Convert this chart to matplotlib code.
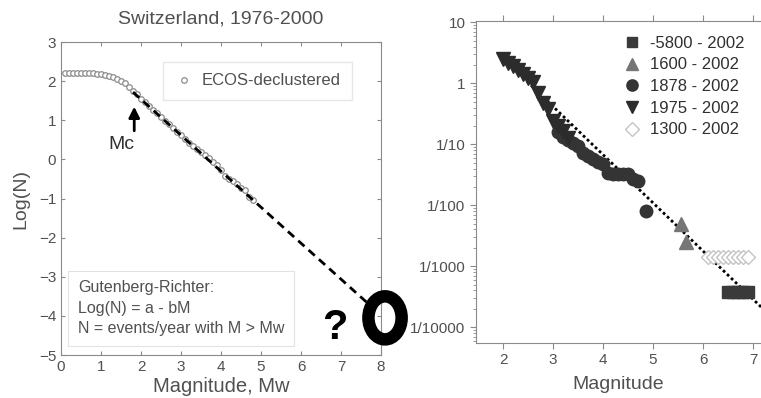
import numpy as np
import matplotlib
matplotlib.use("Agg")
import matplotlib.pyplot as plt
from matplotlib.patches import Ellipse
from matplotlib.ticker import FixedLocator, LogLocator, NullFormatter

plt.rcParams["font.family"] = ["Liberation Sans", "DejaVu Sans"]

# left panel: declustered ECOS catalogue, cumulative log(N) per year
ecos_mag = [0.1, 0.2, 0.3, 0.4, 0.5, 0.6, 0.7, 0.8, 0.9, 1.0,
            1.1, 1.2, 1.3, 1.4, 1.5, 1.6, 1.7, 1.8, 1.9, 2.0,
            2.1, 2.2, 2.3, 2.4, 2.5, 2.6, 2.7, 2.8, 2.9, 3.0,
            3.1, 3.2, 3.3, 3.4, 3.5, 3.6, 3.7, 3.8, 3.9, 4.0,
            4.1, 4.2, 4.3, 4.4, 4.5, 4.6, 4.7, 4.8]
ecos_logn = [2.22, 2.22, 2.22, 2.22, 2.21, 2.21, 2.20, 2.20, 2.19, 2.18,
             2.16, 2.13, 2.10, 2.06, 2.01, 1.94, 1.86, 1.76, 1.66, 1.55,
             1.46, 1.36, 1.27, 1.18, 1.08, 0.98, 0.90, 0.80, 0.71, 0.62,
             0.52, 0.42, 0.34, 0.26, 0.18, 0.10, 0.04, -0.06, -0.14, -0.28,
             -0.42, -0.50, -0.56, -0.64, -0.72, -0.78, -0.96, -1.05]
gr_mag = [1.8, 7.65]
gr_logn = [1.72, -3.66]

# right panel: annual rates by catalogue period
sets = {
    "-5800 - 2002": ([6.5, 6.6, 6.7, 6.8, 6.9],
                     [0.00038, 0.00038, 0.00038, 0.00038, 0.00038]),
    "1600 - 2002": ([5.55, 5.65], [0.0050, 0.0025]),
    "1878 - 2002": ([3.1, 3.2, 3.3, 3.4, 3.5, 3.6, 3.7, 3.8, 3.9, 4.0,
                     4.1, 4.2, 4.3, 4.4, 4.5, 4.6, 4.7, 4.85],
                    [0.158, 0.132, 0.117, 0.105, 0.095, 0.071, 0.063, 0.058, 0.052, 0.048,
                     0.034, 0.033, 0.033, 0.033, 0.032, 0.027, 0.025, 0.0079]),
    "1975 - 2002": ([2.0, 2.1, 2.2, 2.3, 2.4, 2.5, 2.6, 2.7, 2.8, 2.9,
                     3.0, 3.1, 3.2, 3.3],
                    [2.51, 2.19, 1.91, 1.66, 1.41, 1.20, 1.05, 0.68, 0.48, 0.38,
                     0.24, 0.20, 0.166, 0.126]),
    "1300 - 2002": ([6.1, 6.2, 6.3, 6.4, 6.5, 6.6, 6.7, 6.8, 6.9],
                    [0.0014] * 9),
}
fit_mag = [2.0, 7.2]
fit_rate = [2.57, 0.0002]

styles = {
    "-5800 - 2002": dict(marker="s", color="#3a3a3a", ms=8.5),
    "1600 - 2002": dict(marker="^", color="#767676", ms=9.5),
    "1878 - 2002": dict(marker="o", color="#343434", ms=9),
    "1975 - 2002": dict(marker="v", color="#2c2c2c", ms=9.5),
    "1300 - 2002": dict(marker="D", color="white", mec="#c4c4c4", ms=7.5),
}

grey = "#505050"
spine = "#8a8a8a"

fig = plt.figure(figsize=(7.61, 3.98), dpi=100)

# ---------------- left panel
ax1 = fig.add_axes([0.0802, 0.108, 0.4205, 0.7864])
ax1.plot(ecos_mag, ecos_logn, "o", ms=4, mfc="white", mec="#8c8c8c", mew=0.9,
         label="ECOS-declustered", zorder=2)
ax1.plot(gr_mag, gr_logn, color="black", lw=2, ls=(0, (3, 2)), zorder=3)
ax1.set_xlim(0, 8)
ax1.set_ylim(-5, 3)
ax1.set_xticks(range(0, 9))
ax1.set_yticks(range(-5, 4))
ax1.tick_params(direction="in", top=True, right=True, length=3, width=0.8,
                color=spine, labelcolor=grey, labelsize=11)
for s in ax1.spines.values():
    s.set_color(spine)
ax1.set_title("Switzerland, 1976-2000", color=grey, fontsize=14, pad=13)
ax1.set_xlabel("Magnitude, Mw", color=grey, fontsize=14.5, labelpad=2)
ax1.set_ylabel("Log(N)", color=grey, fontsize=14, labelpad=7)

leg1 = ax1.legend(loc="upper left", bbox_to_anchor=(0.32, 0.937), fontsize=12,
                  handlelength=1.1, handletextpad=0.5, borderpad=0.7,
                  fancybox=False, edgecolor="#e2e2e2", borderaxespad=0)
for t in leg1.get_texts():
    t.set_color(grey)

ax1.annotate("", xy=(1.83, 1.42), xytext=(1.83, 0.66),
             arrowprops=dict(arrowstyle="-|>", lw=2, color="black", mutation_scale=16))
ax1.text(1.5, 0.38, "Mc", fontsize=14, color="#303030", ha="center", va="center")

ax1.text(0.42, -4.52, "Gutenberg-Richter:\nLog(N) = a - bM\nN = events/year with M > Mw",
         fontsize=11.5, color=grey, ha="left", va="bottom", linespacing=1.45,
         bbox=dict(boxstyle="square,pad=0.6", fc="white", ec="#e2e2e2", lw=0.8))

ax1.text(6.85, -4.32, "?", fontsize=30, fontweight="bold", color="black",
         ha="center", va="center")
ax1.add_patch(Ellipse((8.1, -4.05), 0.83, 1.1, fill=False, ec="black", lw=9,
                      clip_on=False, zorder=5))

# ---------------- right panel
ax2 = fig.add_axes([0.6255, 0.1382, 0.3745, 0.809])
ax2.plot(fit_mag, fit_rate, color="black", lw=2, ls=(0, (1, 1)), zorder=1)
for name, (m, r) in sets.items():
    st = styles[name]
    ax2.plot(m, r, ls="none", marker=st["marker"], ms=st["ms"], mfc=st["color"],
             mec=st.get("mec", st["color"]), mew=1, label=name, zorder=2)
ax2.set_yscale("log")
ax2.set_xlim(1.46, 7.16)
ax2.set_ylim(5.5e-5, 10.5)
ax2.set_xticks(range(2, 8))
ax2.yaxis.set_major_locator(FixedLocator([1e-4, 1e-3, 1e-2, 1e-1, 1, 10]))
ax2.set_yticklabels(["1/10000", "1/1000", "1/100", "1/10", "1", "10"])
ax2.yaxis.set_minor_locator(LogLocator(base=10, subs=np.arange(2, 10)))
ax2.yaxis.set_minor_formatter(NullFormatter())
ax2.tick_params(direction="out", top=True, length=4, width=0.8, color=spine,
                labelcolor=grey, labelsize=11)
ax2.tick_params(which="minor", direction="out", length=2.5, width=0.6, color=spine)
ax2.spines["right"].set_visible(False)
for s in ["left", "bottom", "top"]:
    ax2.spines[s].set_color(spine)
ax2.set_xlabel("Magnitude", color=grey, fontsize=14, labelpad=6)

leg2 = ax2.legend(loc="upper right", bbox_to_anchor=(0.965, 0.975), frameon=False,
                  fontsize=12, handlelength=1.0, handletextpad=0.6,
                  labelspacing=0.4, borderaxespad=0, markerscale=0.9)
for t in leg2.get_texts():
    t.set_color("#303030")

fig.savefig("out.png", dpi=100)
